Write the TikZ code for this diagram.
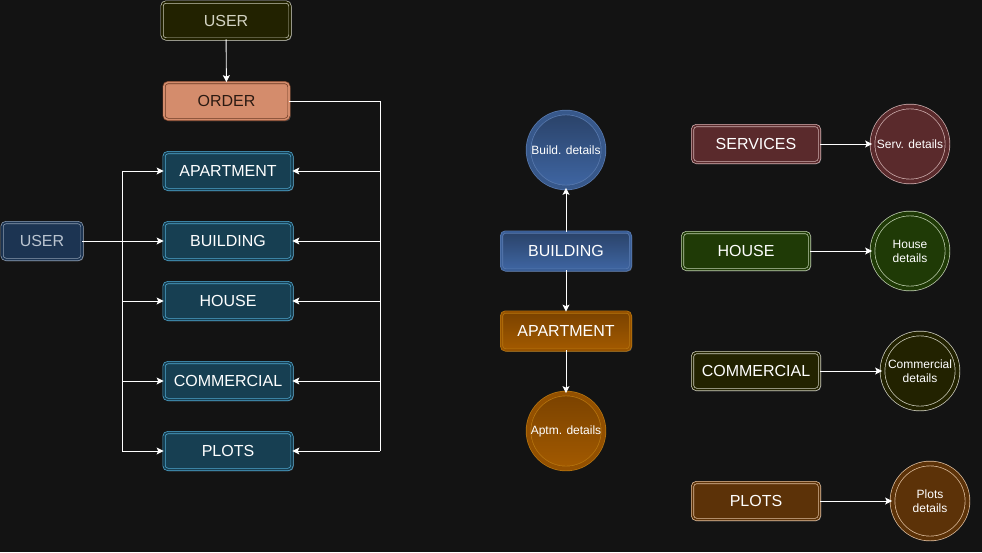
\documentclass[tikz,border=0pt]{standalone}
\usepackage{fontspec}
\setmainfont{Liberation Sans}
\usetikzlibrary{arrows.meta,shadows}

\definecolor{bgc}{HTML}{131313}
\definecolor{glowc}{HTML}{D8DCEC}
\definecolor{oliveF}{HTML}{222200}
\definecolor{oliveD}{HTML}{C8C8B4}
\definecolor{orderF}{HTML}{D48C6C}
\definecolor{orderD}{HTML}{6A3A24}
\definecolor{orderT}{HTML}{2B1A12}
\definecolor{blueF}{HTML}{173F52}
\definecolor{blueD}{HTML}{4FA8D0}
\definecolor{userF}{HTML}{1C3452}
\definecolor{userD}{HTML}{8C9CB0}
\definecolor{bldTop}{HTML}{2A4268}
\definecolor{bldBot}{HTML}{3F66A3}
\definecolor{bldD}{HTML}{5A7BB0}
\definecolor{aptTop}{HTML}{7A4200}
\definecolor{aptBot}{HTML}{A35A00}
\definecolor{aptD}{HTML}{B8760F}
\definecolor{servF}{HTML}{5A2A2C}
\definecolor{servD}{HTML}{D0B0B0}
\definecolor{houseF}{HTML}{1F3A06}
\definecolor{houseD}{HTML}{C0D0B0}
\definecolor{commF}{HTML}{222200}
\definecolor{commD}{HTML}{D0D0C0}
\definecolor{plotsF}{HTML}{5C3208}
\definecolor{plotsD}{HTML}{E0C0A0}

\begin{document}
\begin{tikzpicture}
        [x=1pt, y=-1pt,
        glow/.style={drop shadow={shadow xshift=1.5pt, shadow yshift=-1.5pt,
            fill=glowc, opacity=0.3}},
        box/.style={rectangle, rounded corners=4pt, glow, text=white,
            minimum width=128pt, minimum height=37pt, inner sep=2pt,
            font=\fontsize{16}{19}\selectfont, line width=0.7pt,
            double distance=1.6pt},
        disc/.style={circle, glow, text=white, minimum size=75pt,
            inner sep=1pt, align=center,
            font=\fontsize{12}{14}\selectfont, line width=0.7pt,
            double distance=4pt},
        tint/.style 2 args={fill=#1, draw=#2, double=#1},
        arr/.style={draw=white, line width=0.9pt,
            -{Stealth[length=7pt, width=7pt, inset=1.5pt]}},
        wire/.style={draw=white, line width=0.9pt}]
        \fill [bgc] (0,0) rectangle (982,552);
        \useasboundingbox (0,0) rectangle (982,552);

        % left part: user, order and the five kinds
        \node [box, tint={oliveF}{oliveD}, text=oliveD!80!white] (usrtop) at (226,20.5) {USER};
        \node [box, tint={orderF}{orderD}, text=orderT, minimum width=125pt] (order) at (226.5,101) {ORDER};
        \node [box, tint={userF}{userD}, minimum width=80pt, text=userD!60!white] (usr) at (42,241) {USER};
        \node [box, tint={blueF}{blueD}] (aptL) at (228,171) {APARTMENT};
        \node [box, tint={blueF}{blueD}] (bldL) at (228,241) {BUILDING};
        \node [box, tint={blueF}{blueD}] (houseL) at (228,301) {HOUSE};
        \node [box, tint={blueF}{blueD}] (commL) at (228,381) {COMMERCIAL};
        \node [box, tint={blueF}{blueD}] (plotsL) at (228,451) {PLOTS};
        \coordinate (ltrunk) at (122,0);
        \coordinate (rtrunk) at (380,0);

        \draw [arr] (usrtop) -- (order);
        \draw [arr] (usr) -- (bldL);
        \draw [wire] (ltrunk |- aptL.west) -- (ltrunk |- plotsL.west);
        \foreach \n in {aptL, houseL, commL, plotsL}
            \draw [arr] (ltrunk |- \n.west) -- (\n.west);
        \draw [wire] (order.east) -| (rtrunk |- plotsL.east);
        \foreach \n in {aptL, bldL, houseL, commL, plotsL}
            \draw [arr] (rtrunk |- \n.east) -- (\n.east);

        % middle part
        \node [box, top color=bldTop, bottom color=bldBot, draw=bldD, double=bldBot!80!bldTop,
            minimum width=129pt, minimum height=38pt] (bldM) at (566,251) {BUILDING};
        \node [box, top color=aptTop, bottom color=aptBot, draw=aptD, double=aptBot!70!aptTop,
            minimum width=129pt, minimum height=38pt] (aptM) at (566,331) {APARTMENT};
        \node [disc, top color=bldTop, bottom color=bldBot, draw=bldD, double=bldBot!60!bldTop] (bdet) at (566,150) {Build. details};
        \node [disc, top color=aptTop, bottom color=aptBot, draw=aptD, double=aptBot!60!aptTop] (adet) at (566,431) {Aptm. details};
        \draw [arr] (bldM) -- (bdet);
        \draw [arr] (bldM) -- (aptM);
        \draw [arr] (aptM) -- (adet);

        % right part
        \node [box, tint={servF}{servD}, minimum width=127pt] (serv) at (756,144) {SERVICES};
        \node [box, tint={houseF}{houseD}, minimum width=127pt] (houseR) at (746,251) {HOUSE};
        \node [box, tint={commF}{commD}, minimum width=127pt] (commR) at (756,371) {COMMERCIAL};
        \node [box, tint={plotsF}{plotsD}, minimum width=127pt] (plotsR) at (756,501) {PLOTS};
        \node [disc, tint={servF}{servD}] (sdet) at (910,144) {Serv. details};
        \node [disc, tint={houseF}{houseD}] (hdet) at (910,251) {House\\details};
        \node [disc, tint={commF}{commD}] (cdet) at (920,371) {Commercial\\details};
        \node [disc, tint={plotsF}{plotsD}] (pdet) at (930,501) {Plots\\details};
        \draw [arr] (serv) -- (sdet);
        \draw [arr] (houseR) -- (hdet);
        \draw [arr] (commR) -- (cdet);
        \draw [arr] (plotsR) -- (pdet);
\end{tikzpicture}
\end{document}
